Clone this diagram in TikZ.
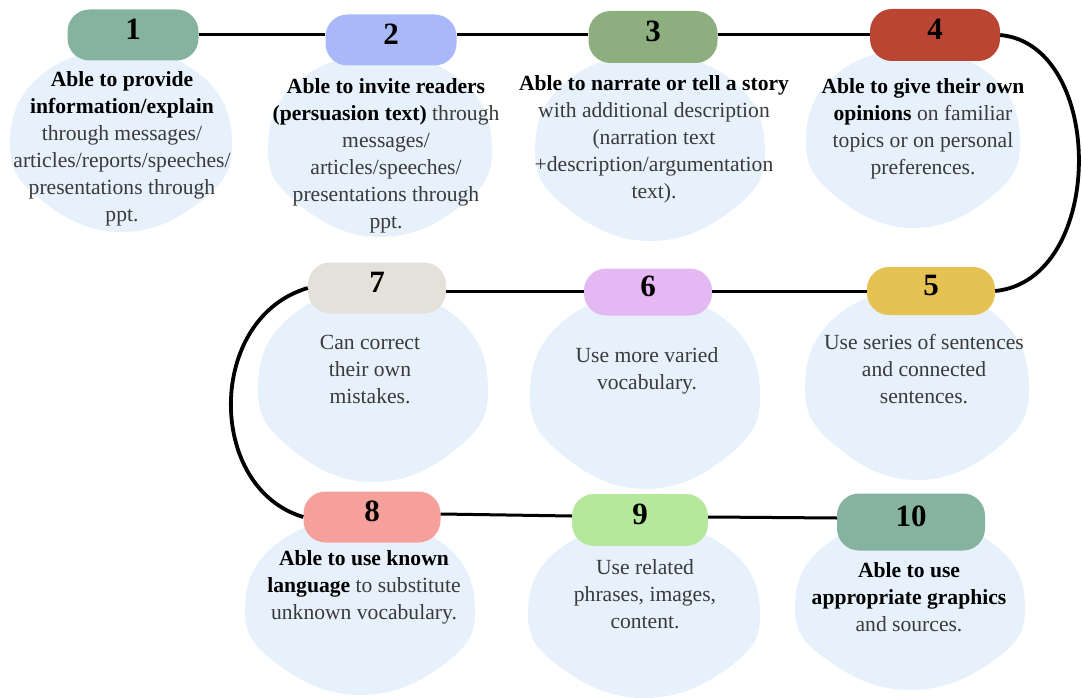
\documentclass[tikz,border=0pt]{standalone}
\usepackage{fontspec}
\setmainfont{Liberation Serif}
\definecolor{blobc}{HTML}{E7F1FC}
\definecolor{c1}{HTML}{86B3A0}
\definecolor{c2}{HTML}{A9B8F8}
\definecolor{c3}{HTML}{8DAE7E}
\definecolor{c4}{HTML}{BB4533}
\definecolor{c5}{HTML}{E6C252}
\definecolor{c6}{HTML}{E4B8F2}
\definecolor{c7}{HTML}{E4E1DA}
\definecolor{c8}{HTML}{F6A09C}
\definecolor{c9}{HTML}{B5E89C}
\definecolor{c10}{HTML}{86B3A0}
\definecolor{txt}{HTML}{3A3A3A}
\newcommand\blobat[4]{\fill[blobc,shift={(#1,#2)},xscale=#3,yscale=#4] plot[smooth cycle,tension=0.75] coordinates {(0:1) (40:0.98) (90:1) (140:0.97) (180:1) (225:1.02) (270:1) (315:1.02)};}
\newcommand\hb[1]{{\color{black}\bfseries #1}}
\tikzset{
  pill/.style={rectangle, rounded corners=22pt, fill=#1, inner sep=0pt,
    minimum width=131pt, minimum height=51pt, text=black,
    font=\bfseries\fontsize{31}{31}\selectfont, text height=21pt, text depth=12pt},
  desc/.style={anchor=north, align=center, inner sep=0pt, text=txt,
    font=\fontsize{21.6}{27}\selectfont},
  conn/.style={line width=3pt, black},
  curveconn/.style={line width=3.8pt, black}
}
\begin{document}
\begin{tikzpicture}[x=1pt,y=-1pt]
\useasboundingbox (0,0) rectangle (1082,698);
% blobs
\blobat{121}{141}{111}{91}
\blobat{380}{146}{112}{91}
\blobat{650}{148}{115}{93}
\blobat{913}{139}{107}{89}
\blobat{373}{386}{115}{96}
\blobat{645}{392}{115}{97}
\blobat{917}{385}{112}{95}
\blobat{360}{607}{115}{88}
\blobat{644}{611}{116}{87}
\blobat{910}{605}{115}{85}
% pills
\node[pill=c1] (p1) at (133,35) {1};
\node[pill=c2] (p2) at (391,40) {2};
\node[pill=c3, minimum width=129pt, minimum height=52pt] (p3) at (653,37) {3};
\node[pill=c4, minimum width=130pt, minimum height=52pt] (p4) at (935,35) {4};
\node[pill=c5, minimum width=128pt, minimum height=48pt] (p5) at (931,291) {5};
\node[pill=c6, minimum width=128pt, minimum height=47pt] (p6) at (648,292) {6};
\node[pill=c7, minimum width=138pt] (p7) at (377,288) {7};
\node[pill=c8, minimum width=137pt] (p8) at (372,517) {8};
\node[pill=c9, minimum width=136pt, minimum height=52pt] (p9) at (640,520) {9};
\node[pill=c10, minimum width=148pt, minimum height=57pt] (p10) at (911,522) {10};
% connectors
\draw[conn] (p1.east) -- (p2.west |- p1.east);
\draw[conn] (p2.east |- p1.east) -- (p3.west |- p1.east);
\draw[conn] (p3.east |- p1.east) -- (p4.west |- p1.east);
\draw[curveconn] (p4.east) .. controls (1106,45) and (1106,280) .. (p5.east);
\draw[conn] (p5.west) -- (p6.east |- p5.west);
\draw[conn] (p6.west |- p5.west) -- (p7.east |- p5.west);
\draw[curveconn] (p7.west) .. controls (206,318) and (206,488) .. (p8.west);
\draw[conn] (p8.east |- 0,514) -- (p9.west |- 0,516);
\draw[conn] (p9.east |- 0,517) -- (p10.west |- 0,518);
% texts
\node[desc] (t1) at (122,71) {\hb{Able to provide}\\\hb{information/explain}\\through messages/\\articles/reports/speeches/\\presentations through\\ppt.};
\node[desc] (t2) at (386,78) {\hb{Able to invite readers}\\\hb{(persuasion text)} through\\messages/\\articles/speeches/\\presentations through\\ppt.};
\node[desc] (t3) at (654,75) {\hb{Able to narrate or tell a story}\\with additional description\\(narration text\\+description/argumentation\\text).};
\node[desc] (t4) at (923,78) {\hb{Able to give their own}\\\hb{opinions} on familiar\\topics or on personal\\preferences.};
\node[desc] (t5) at (924,334) {Use series of sentences\\and connected\\sentences.};
\node[desc] (t6) at (647,347) {Use more varied\\vocabulary.};
\node[desc] (t7) at (370,335) {Can correct\\their own\\mistakes.};
\node[desc] (t8) at (364,550) {\hb{Able to use known}\\\hb{language} to substitute\\unknown vocabulary.};
\node[desc] (t9) at (645,559) {Use related\\phrases, images,\\content.};
\node[desc] (t10) at (909,562) {\hb{Able to use}\\\hb{appropriate graphics}\\and sources.};
\end{tikzpicture}
\end{document}
